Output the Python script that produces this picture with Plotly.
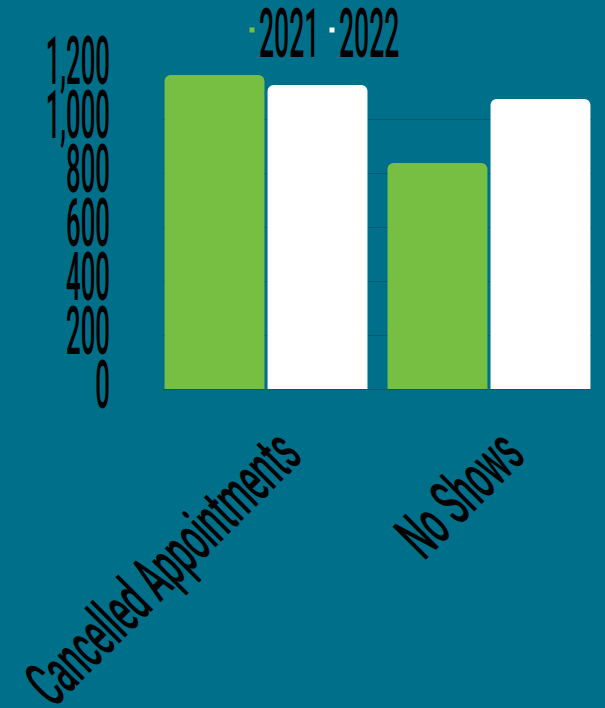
import plotly.graph_objects as go

categories = ["Cancelled Appointments", "No Shows"]
values_2021 = [1163, 837]
values_2022 = [1126, 1074]
series_names = ["2021", "2022"]
y_ticks = [0, 200, 400, 600, 800, 1000, 1200]
y_tick_labels = ["0", "200", "400", "600", "800", "1,000", "1,200"]

BG = "#006f8a"
GRID = "#005c74"
GREEN = "#77bf43"
WHITE = "#ffffff"
FONT = "Roboto"

fig = go.Figure()
for name, vals, col in [(series_names[0], values_2021, GREEN), (series_names[1], values_2022, WHITE)]:
    fig.add_trace(go.Bar(x=categories, y=vals, name=name,
                         marker=dict(color=col, line=dict(width=0), cornerradius=6),
                         showlegend=False))
    # legend proxy (small square marker) placed on a hidden overlay axis, outside its range
    fig.add_trace(go.Scatter(x=[-5], y=[-5], mode="markers", name=name, xaxis="x2", yaxis="y2",
                             marker=dict(symbol="square", size=5, color=col)))

fig.update_layout(
    width=605, height=708,
    paper_bgcolor=BG, plot_bgcolor=BG,
    margin=dict(l=163, r=13, t=65, b=319, autoexpand=False),
    barmode="group", bargap=0.076, bargroupgap=0.03,
    font=dict(family=FONT, color="#000000", size=66, weight=500),
    legend=dict(orientation="h", xref="container", yref="container", x=0.0, xanchor="left",
                y=1.0, yanchor="top", bgcolor="rgba(0,0,0,0)", font=dict(size=68, family=FONT, weight=500),
                itemclick=False, itemdoubleclick=False),
    showlegend=True,
    xaxis2=dict(overlaying="x", visible=False, range=[0, 1]),
    yaxis2=dict(overlaying="y", visible=False, range=[0, 1]),
)
fig.update_layout(xaxis=dict(range=[-0.462, 1.462], tickangle=-45, showgrid=False, showline=False, ticks="",
                             ticklabelshift=15, ticklabelstandoff=12,
                             tickfont=dict(size=66, family=FONT, weight=500)))
fig.update_layout(yaxis=dict(range=[0, 1200], tickvals=y_ticks, ticktext=y_tick_labels, showgrid=True,
                             gridcolor=GRID, gridwidth=1, zeroline=True, zerolinecolor=GRID, zerolinewidth=1,
                             showline=False, ticks="", ticklabelstandoff=52,
                             tickfont=dict(size=66, family=FONT, weight=500)))

post = """
(function(){
  var gd = document.getElementById('{plot_id}');
  var SX_Y = 0.39, SX_X = 0.49, SX_L = 0.39;
  var Y_SHIFT = -4;
  var LEG_X0 = 232, LEG_STEP = 80, LEG_CY = 30;
  var RE = /translate\\(([-0-9.e]+)[ ,]+([-0-9.e]+)\\)/;
  function squeeze(){
    gd.querySelectorAll('g.xtick > text, g.ytick > text, text.legendtext').forEach(function(el){
      var orig = el.getAttribute('data-orig-tf');
      if (orig === null) { orig = el.getAttribute('transform') || ''; el.setAttribute('data-orig-tf', orig); }
      var x = parseFloat(el.getAttribute('x')) || 0;
      var y = parseFloat(el.getAttribute('y')) || 0;
      var extra = '', sx = SX_Y;
      if (el.classList.contains('legendtext')) { extra = ' translate(-13,0)'; sx = SX_L; }
      else if (el.parentNode.classList.contains('xtick')) { sx = SX_X; }
      else { extra = ' translate(0,' + Y_SHIFT + ')'; }
      el.setAttribute('transform', orig + extra + ' translate(' + x + ',' + y + ') scale(' + sx + ',1) translate(' + (-x) + ',' + (-y) + ')');
    });
    var leg = gd.querySelector('g.legend');
    if (leg) {
      var m = RE.exec(leg.getAttribute('transform') || '');
      var lx = m ? parseFloat(m[1]) : 0, ly = m ? parseFloat(m[2]) : 0;
      leg.querySelectorAll('g.traces').forEach(function(it, i){
        it.setAttribute('transform', 'translate(' + (LEG_X0 - lx + i * LEG_STEP) + ',' + (LEG_CY - ly) + ')');
      });
      leg.querySelectorAll('[clip-path]').forEach(function(e){ e.removeAttribute('clip-path'); });
    }
  }
  squeeze();
  if (gd.on) { gd.on('plotly_afterplot', function(){ gd.querySelectorAll('[data-orig-tf]').forEach(function(e){e.removeAttribute('data-orig-tf');}); squeeze(); }); }
  setTimeout(squeeze, 50);
})();
"""
fig.write_html("out.html", post_script=post)
